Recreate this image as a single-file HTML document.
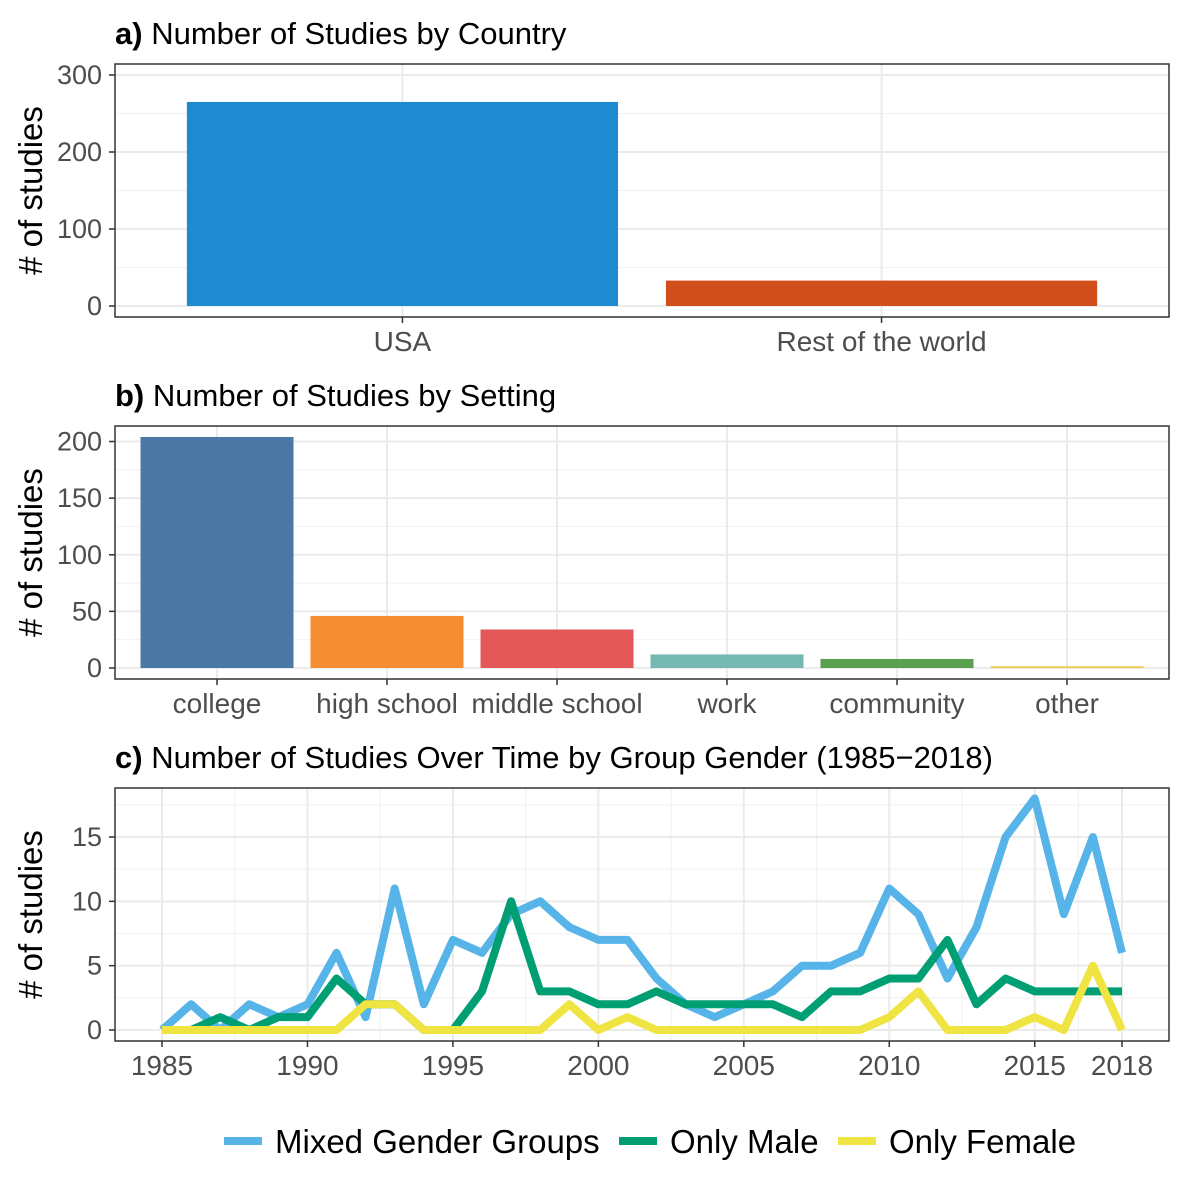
<!DOCTYPE html>
<html><head><meta charset="utf-8">
<style>
html,body{margin:0;padding:0;background:#fff;}
svg{display:block;font-family:"Liberation Sans",Arial,sans-serif;}
.tick{fill:#4d4d4d;font-size:27px;}
.xtick{fill:#4d4d4d;font-size:28px;}
.title{fill:#000;font-size:31px;}
.ytitle{fill:#000;font-size:33px;}
.grid{stroke:#ebebeb;stroke-width:2;}
.gridm{stroke:#f2f2f2;stroke-width:1.2;}
.leg{fill:#000;font-size:33px;}
</style></head>
<body>
<svg id="chart" width="1194" height="1190" viewBox="0 0 1194 1190" xmlns="http://www.w3.org/2000/svg"></svg>
<script>
// Panel a data
const countryCats = ["USA", "Rest of the world"];
const countryVals = [265, 33];
const countryTicks = [0, 100, 200, 300];
// Panel b data
const settingCats = ["college", "high school", "middle school", "work", "community", "other"];
const settingVals = [204, 46, 34, 12, 8, 1.5];
const settingTicks = [0, 50, 100, 150, 200];
// Panel c data
const years = [1985,1986,1987,1988,1989,1990,1991,1992,1993,1994,1995,1996,1997,1998,1999,2000,2001,2002,2003,2004,2005,2006,2007,2008,2009,2010,2011,2012,2013,2014,2015,2016,2017,2018];
const mixedVals = [0,2,0,2,1,2,6,1,11,2,7,6,9,10,8,7,7,4,2,1,2,3,5,5,6,11,9,4,8,15,18,9,15,6];
const maleVals = [0,0,1,0,1,1,4,2,2,0,0,3,10,3,3,2,2,3,2,2,2,2,1,3,3,4,4,7,2,4,3,3,3,3];
const femaleVals = [0,0,0,0,0,0,0,2,2,0,0,0,0,0,2,0,1,0,0,0,0,0,0,0,0,1,3,0,0,0,1,0,5,0];
const yearTicks = [1985,1990,1995,2000,2005,2010,2015,2018];
const timeTicks = [0,5,10,15];

const svg = document.getElementById('chart');
const NS = "http://www.w3.org/2000/svg";
function mk(tag, attrs, parent){const e=document.createElementNS(NS,tag);for(const k in attrs)e.setAttribute(k,attrs[k]);(parent||svg).appendChild(e);return e;}
function txt(s, attrs, parent){const e=mk('text',attrs,parent);e.textContent=s;return e;}

const L=115, R=1169, W=R-L;

function panelFrame(top,bottom,name,title,boldPart){
  const g=mk('g',{});
  
  
  const t=txt('',{x:115,y:top-20,class:'title'},g);
  
  
  const b=document.createElementNS(NS,'tspan');b.setAttribute('font-weight','bold');b.textContent=boldPart+' ';t.appendChild(b);
  const r=document.createElementNS(NS,'tspan');r.textContent=title;t.appendChild(r);
  const yt=txt('# of studies',{x:0,y:0,class:'ytitle','text-anchor':'middle',transform:`translate(42,${(top+bottom)/2}) rotate(-90)`},g);
  
  
  return g;
}

function barPanel(top,bottom,y0,ymax,vmax,cats,vals,ticks,colors,name,title,bold){
  const g=panelFrame(top,bottom,name,title,bold);
  const ys=v=>y0-(y0-ymax)*v/vmax;
  const n=cats.length, unit=W/(n-1+1.2), bw=unit*0.9;
  const xc=i=>L+unit*(0.6+i);
  for(let i=0;i<ticks.length-1;i++){const m=(ticks[i]+ticks[i+1])/2;mk('line',{x1:L,x2:R,y1:ys(m),y2:ys(m),class:'gridm'},g);}
  ticks.forEach(t=>mk('line',{x1:L,x2:R,y1:ys(t),y2:ys(t),class:'grid'},g));
  cats.forEach((c,i)=>{const cx=xc(i);mk('line',{x1:cx,x2:cx,y1:top,y2:bottom,class:'grid'},g);});
  cats.forEach((c,i)=>{
    const cx=xc(i);
    const r=mk('rect',{x:cx-bw/2,y:ys(vals[i]),width:bw,height:y0-ys(vals[i]),fill:colors[i]},g);
    
    
    mk('line',{x1:cx,x2:cx,y1:bottom,y2:bottom+6,stroke:'#333','stroke-width':1.5},g);
    const lt=txt(c,{x:cx,y:bottom+34,class:'xtick','text-anchor':'middle'},g);
    
    
  });
  ticks.forEach(t=>{
    mk('line',{x1:L-6,x2:L,y1:ys(t),y2:ys(t),stroke:'#333','stroke-width':1.5},g);
    const lt=txt(String(t),{x:L-13,y:ys(t)+9,class:'tick','text-anchor':'end'},g);
    
    
  });
  mk('rect',{x:L,y:top,width:W,height:bottom-top,fill:'none',stroke:'#333','stroke-width':1.5},g);
}

barPanel(64,317,306,75,300,countryCats,countryVals,countryTicks,['#1e8bd0','#d04f1c'],'panel-a-country','Number of Studies by Country','a)');
barPanel(426,679,668,441.5,200,settingCats,settingVals,settingTicks,['#4c78a6','#f58e33','#e35759','#76b8b2','#59a14e','#edc948'],'panel-b-setting','Number of Studies by Setting','b)');

(function(){
  const top=788,bottom=1041;
  const g=panelFrame(top,bottom,'panel-c-time','Number of Studies Over Time by Group Gender (1985\u22122018)','c)');
  const xs=y=>162+(y-1985)*(1122-162)/33;
  const ys=v=>1030-v*(1030-837)/15;
  [2.5,7.5,12.5,17.5].forEach(m=>mk('line',{x1:L,x2:R,y1:ys(m),y2:ys(m),class:'gridm'},g));
  for(let i=0;i<yearTicks.length-1;i++){const m=(yearTicks[i]+yearTicks[i+1])/2;mk('line',{x1:xs(m),x2:xs(m),y1:top,y2:bottom,class:'gridm'},g);}
  timeTicks.forEach(t=>mk('line',{x1:L,x2:R,y1:ys(t),y2:ys(t),class:'grid'},g));
  yearTicks.forEach(t=>mk('line',{x1:xs(t),x2:xs(t),y1:top,y2:bottom,class:'grid'},g));
  const series=[[mixedVals,'#56b4e9','line-mixed-gender'],[maleVals,'#009e73','line-only-male'],[femaleVals,'#f0e442','line-only-female']];
  series.forEach(([vals,col,nm])=>{
    const d=vals.map((v,i)=>(i?'L':'M')+xs(years[i]).toFixed(1)+','+ys(v).toFixed(1)).join(' ');
    const p=mk('path',{d:d,fill:'none',stroke:col,'stroke-width':8,'stroke-linejoin':'round'},g);
    
    
  });
  yearTicks.forEach(t=>{
    mk('line',{x1:xs(t),x2:xs(t),y1:bottom,y2:bottom+6,stroke:'#333','stroke-width':1.5},g);
    const lt=txt(String(t),{x:xs(t),y:bottom+34,class:'xtick','text-anchor':'middle'},g);
    
    
  });
  timeTicks.forEach(t=>{
    mk('line',{x1:L-6,x2:L,y1:ys(t),y2:ys(t),stroke:'#333','stroke-width':1.5},g);
    const lt=txt(String(t),{x:L-13,y:ys(t)+9,class:'tick','text-anchor':'end'},g);
    
    
  });
  mk('rect',{x:L,y:top,width:W,height:bottom-top,fill:'none',stroke:'#333','stroke-width':1.5},g);

  const lg=mk('g',{});
  
  
  const items=[['Mixed Gender Groups','#56b4e9',224],['Only Male','#009e73',619],['Only Female','#f0e442',838]];
  items.forEach(([lab,col,x])=>{
    const e=mk('g',{},lg);
    
    
    mk('line',{x1:x,x2:x+38,y1:1141,y2:1141,stroke:col,'stroke-width':8},e);
    txt(lab,{x:x+51,y:1153,class:'leg'},e);
  });
})();
</script>
</body></html>
